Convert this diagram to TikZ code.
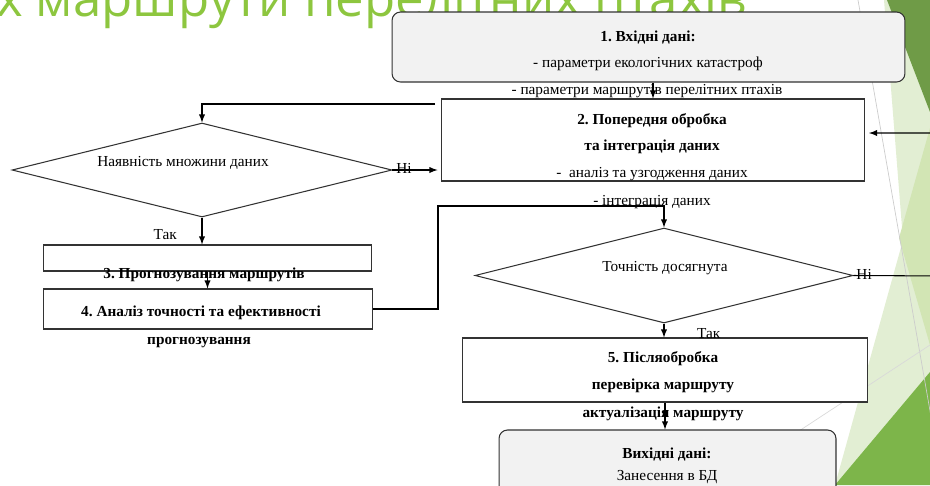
\documentclass[tikz,border=0pt]{standalone}
\usepackage{fontspec}
\setmainfont{Liberation Serif}
\newfontfamily\titlefont{Open Sans}
\usepackage{xcolor}
\usepackage{tikz}
\usetikzlibrary{arrows,shapes,positioning}
\frenchspacing

\definecolor{boxgray}{HTML}{F2F2F2}
\definecolor{titlegreen}{HTML}{8DC63F}
\definecolor{gpale}{HTML}{E2EED3}
\definecolor{gmid}{HTML}{D2E5B4}
\definecolor{gbright}{HTML}{7DB54A}
\definecolor{gdark}{HTML}{6F9B47}

\tikzset{
	box/.style={draw=black!80,line width=0.6pt,fill=white,inner sep=0pt},
	rbox/.style={box,fill=boxgray,rounded corners=0.17cm},
	dec/.style={box,diamond},
	txt/.style={inner sep=0pt,text height=6pt,text depth=1.8pt,font=\fontsize{8.7}{10}\selectfont},
	btxt/.style={txt,font=\fontsize{8.7}{10}\selectfont\bfseries},
}

\begin{document}
\begin{tikzpicture}[x=0.02cm,y=-0.02cm]
	\clip (0,0) rectangle (930,485);
	% slide background
	\fill[gpale] (884,0) -- (930,0) -- (930,485) -- (835,485) -- (903,240) -- cycle;
	\fill[gmid] (930,128) -- (899,238) -- (930,345) -- cycle;
	\fill[gbright] (930,372) -- (835,485) -- (930,485) -- cycle;
	\fill[gdark] (887,0) -- (930,0) -- (930,112) -- cycle;
	\draw[black!20] (858,0) -- (943,485);
	\draw[black!15] (770,450) -- (930,345);
	\node[anchor=base east,inner sep=0pt,text=titlegreen,font=\titlefont\fontsize{29}{30}\selectfont] (title) at (747,16) {х маршрути перелітних птахів};
	%
	\node[rbox,minimum width=10.26cm,minimum height=1.4cm] (in) at (648.5,47) {};
	\node[box,minimum width=8.48cm,minimum height=1.64cm] (prep) at (653,140) {};
	\node[dec,minimum width=7.6cm,minimum height=1.88cm] (avail) at (202,170) {};
	\node[box,minimum width=6.58cm,minimum height=0.52cm] (pred) at (207.5,258) {};
	\node[box,minimum width=6.6cm,minimum height=0.8cm] (acc) at (208,309) {};
	\node[dec,minimum width=7.56cm,minimum height=1.9cm] (ok) at (664,275.5) {};
	\node[box,minimum width=8.12cm,minimum height=1.28cm] (post) at (665,370) {};
	\node[rbox,minimum width=6.74cm,minimum height=1.4cm] (out) at (667.5,465) {};
	%
	\node[btxt] (inA) at (648,38) {1. Вхідні дані:};
	\node[txt] (inB) at (648,64) {- параметри екологічних катастроф};
	\node[txt] (inC) at (647,91) {- параметри маршрутів перелітних птахів};
	\node[btxt] (prepA) at (652,121) {2. Попередня обробка};
	\node[btxt] (prepB) at (652,147) {та інтеграція даних};
	\node[txt] (prepC) at (652,174) {-~ аналіз та узгодження даних};
	\node[txt] (prepD) at (652,202) {- інтеграція даних};
	\node[txt] (availA) at (183,163) {Наявність множини даних};
	\node[btxt] (predA) at (204,275) {3. Прогнозування маршрутів};
	\node[btxt] (accA) at (201,313) {4. Аналіз точності та ефективності};
	\node[btxt] (accB) at (199,341) {прогнозування};
	\node[txt] (okA) at (665,268) {Точність досягнута};
	\node[btxt] (postA) at (663,359) {5. Післяобробка};
	\node[btxt] (postB) at (663,386) {перевірка маршруту};
	\node[btxt] (postC) at (663,414) {актуалізація маршруту};
	\node[btxt] (outA) at (667,455) {Вихідні дані:};
	\node[txt] (outB) at (667,477) {Занесення в БД};
	%
	\coordinate (back1) at (435,104);
	\coordinate (back2) at (438,206);
	\coordinate (back3) at (950,276);
	\coordinate (back4) at (869,133);
	%
	\path[->,line width=0.6pt,>=latex]
	(prep.north |- in.south) edge (prep.north)
	(avail.east) edge[shorten >=1.7pt] node[txt,pos=0.24]{Ні} (avail.east -| prep.west)
	(avail.south) edge node[txt,pos=0.68,left=14pt]{Так} (avail.south |- pred.north)
	(pred.south) edge (pred.south |- acc.north)
	(ok.south) edge node[txt,pos=0.8,right=18.5pt]{Так} (ok.south |- post.north)
	(post.south) edge (post.south |- out.north);
	%
	\draw[->,line width=0.6pt,>=latex] (back1) -| (avail.north);
	\draw[->,line width=0.6pt,>=latex] (acc.east) -| (back2) -| (ok.north);
	\draw[->,line width=0.6pt,>=latex] (ok.east) -- node[txt,pos=0.11]{Ні} (back3) |- (back4);
\end{tikzpicture}
\end{document}
